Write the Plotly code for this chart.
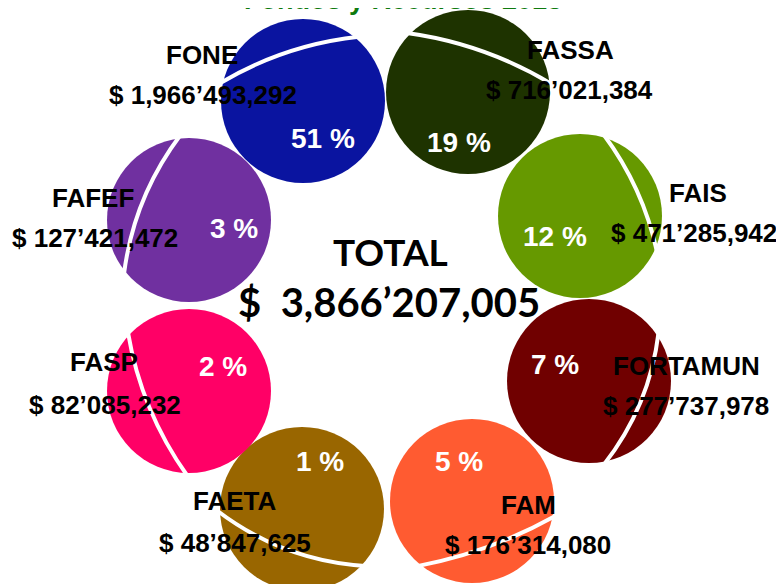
import math
import plotly.graph_objects as go

# =============================================================================
# 1. DATA
# =============================================================================
FONDOS = ["FONE", "FASSA", "FAIS", "FORTAMUN", "FAM", "FAETA", "FASP", "FAFEF"]
MONTOS = [1966493292, 716021384, 471285942, 277737978, 176314080, 48847625, 82085232, 127421472]
TOTAL = 3866207005
TITULO = "Fondos y Recursos 2013"

COLORES = ["#0A14A0", "#1E3300", "#669900", "#700000", "#FF5B31", "#996600", "#FF0066", "#7030A0"]

# =============================================================================
# 2. LAYOUT (pixel positions in the page, y grows downwards)
# =============================================================================
CENTROS = [(303, 101), (468, 92), (580, 216), (589, 381), (472, 501), (302, 509), (189, 391), (189, 220)]
RADIO = 82
# white decorative arc: start angle, end angle (deg), bulge outwards (px)
ARCOS = [(192, -49, 8), (224, -5, 8), (-74, 25, 7), (-35, 80, 10),
         (10, 130, 6), (179, 42, 12), (224, 91, 9), (264, 140, 10)]
POS_NOMBRE = [(202, 55), (570, 50), (698, 193), (686, 366), (528, 505), (235, 501), (104, 362), (93, 198)]
POS_MONTO = [(203, 95), (569, 90), (694, 233), (686, 406), (528, 545), (235, 543), (105, 405), (95, 238)]
POS_PCT = [(323, 138), (459, 142), (555, 236), (555, 364), (459, 461), (320, 461), (223, 366), (234, 228)]

W, H = 784, 584
OFF = 8  # page body margin around the plot div
FONT = "Arial, Liberation Sans, sans-serif"
FONT_TOTAL = "Lato, Open Sans, sans-serif"


def fmt_monto(m):
    g = f"{m:,}".split(",")
    return ",".join(g[:-2]) + "\u2019" + g[-2] + "," + g[-1]


def arc_path(cx, cy, r, a0, a1, bulge):
    a0, a1 = math.radians(a0), math.radians(a1)
    x0, y0 = cx + r * math.cos(a0), cy + r * math.sin(a0)
    x2, y2 = cx + r * math.cos(a1), cy + r * math.sin(a1)
    mx, my = (x0 + x2) / 2, (y0 + y2) / 2
    dx, dy = mx - cx, my - cy
    n = math.hypot(dx, dy) or 1
    px, py = mx + bulge * dx / n, my + bulge * dy / n
    qx, qy = 2 * px - mx, 2 * py - my
    return f"M {x0:.1f},{y0:.1f} Q {qx:.1f},{qy:.1f} {x2:.1f},{y2:.1f}"


# =============================================================================
# 3. CHART
# =============================================================================
fig = go.Figure()

fig.add_trace(go.Scatter(
    x=[c[0] for c in CENTROS],
    y=[c[1] for c in CENTROS],
    mode="markers",
    marker=dict(size=2 * RADIO, color=COLORES, line=dict(width=0), opacity=1),
    hoverinfo="text",
    text=FONDOS,
    showlegend=False,
))

shapes = []
for (cx, cy), (a0, a1, b) in zip(CENTROS, ARCOS):
    shapes.append(dict(type="path", xref="x", yref="y", layer="above",
                       path=arc_path(cx, cy, RADIO + 3, a0, a1, b),
                       line=dict(color="white", width=4)))

annotations = []
for i, nombre in enumerate(FONDOS):
    pct = round(100 * MONTOS[i] / TOTAL)
    annotations.append(dict(x=POS_NOMBRE[i][0], y=POS_NOMBRE[i][1], text=f"<b>{nombre}</b>",
                            showarrow=False, font=dict(family=FONT, size=26, color="black")))
    annotations.append(dict(x=POS_MONTO[i][0], y=POS_MONTO[i][1], text=f"<b>$ {fmt_monto(MONTOS[i])}</b>",
                            showarrow=False, font=dict(family=FONT, size=26, color="black")))
    annotations.append(dict(x=POS_PCT[i][0], y=POS_PCT[i][1], text=f"<b>{pct} %</b>",
                            showarrow=False, font=dict(family=FONT, size=28, color="white")))

annotations.append(dict(x=390, y=251, text="<b>TOTAL</b>", showarrow=False,
                        font=dict(family=FONT_TOTAL, size=37, color="black")))
annotations.append(dict(x=389, y=302, text=f"<b>$\u00a0\u00a0{fmt_monto(TOTAL)}</b>", showarrow=False,
                        font=dict(family=FONT_TOTAL, size=40, color="black")))
# title: mostly above the visible page, only the lower edge of the glyphs shows
annotations.append(dict(x=403, y=OFF + 9, yanchor="bottom", text=f"<b>{TITULO}</b>", showarrow=False,
                        font=dict(family=FONT, size=27, color="#0E7A0E")))

fig.update_layout(
    width=W, height=H,
    margin=dict(l=0, r=0, t=0, b=0),
    paper_bgcolor="white", plot_bgcolor="white",
    xaxis=dict(range=[OFF, OFF + W], visible=False, fixedrange=True),
    yaxis=dict(range=[OFF + H, OFF], visible=False, fixedrange=True),
    shapes=shapes,
    annotations=annotations,
)

fig.write_html("out.html")
